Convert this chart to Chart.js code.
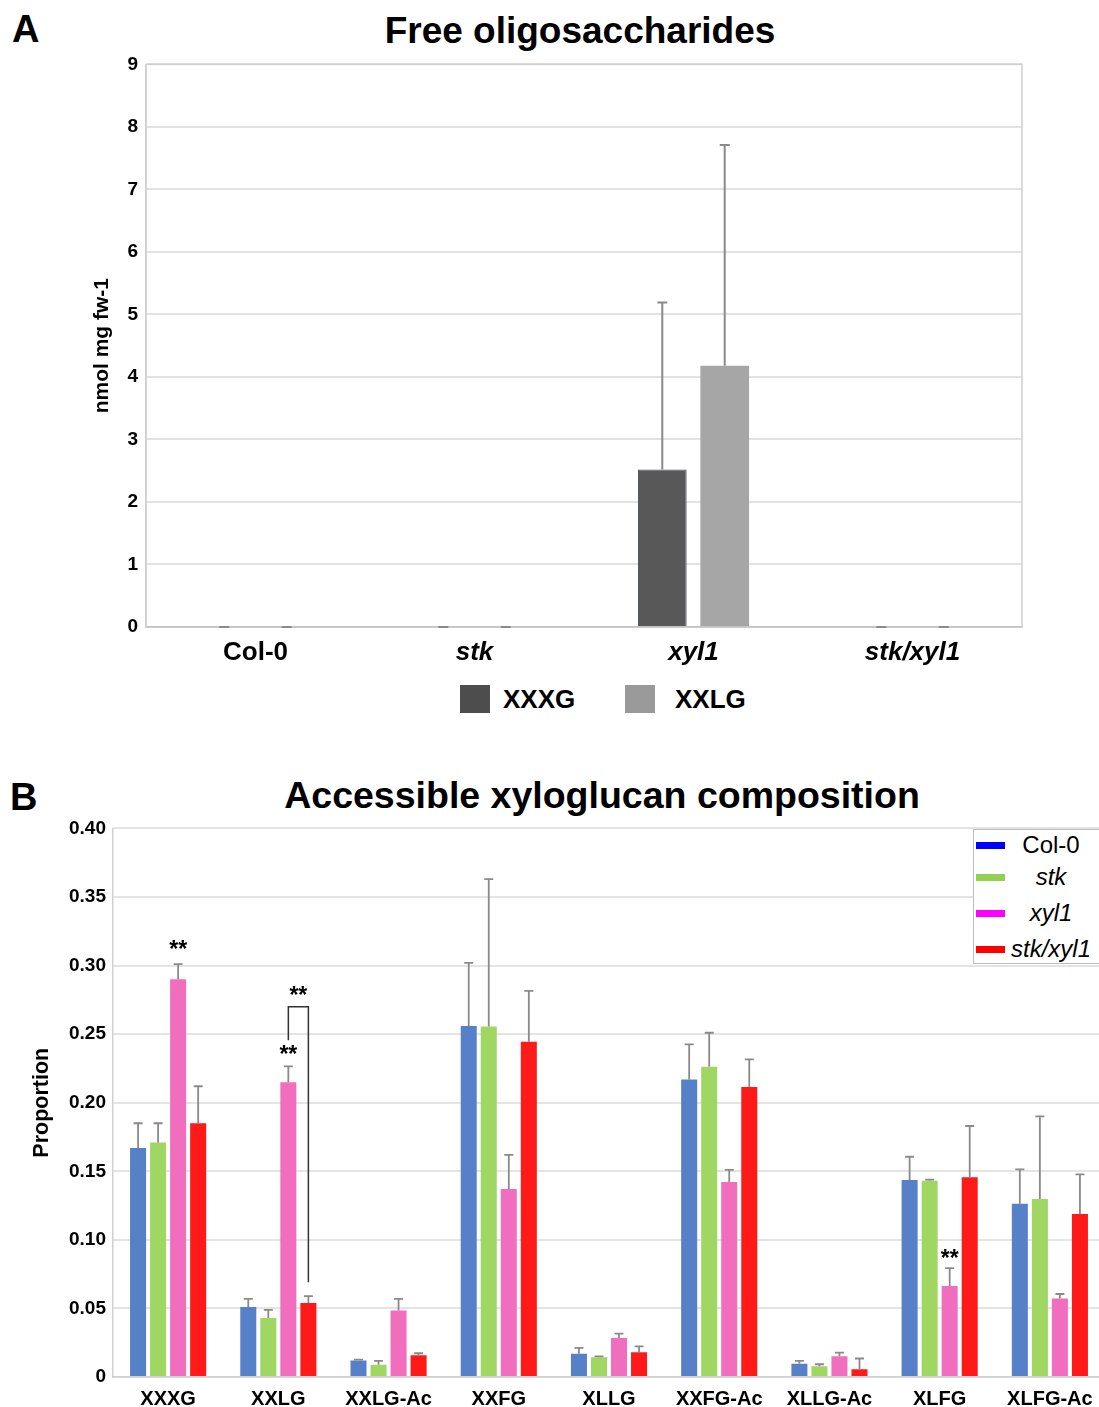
<!DOCTYPE html>
<html>
<head>
<meta charset="utf-8">
<script src="https://cdn.jsdelivr.net/npm/chart.js@4/dist/chart.umd.min.js"></script>
<style>
  html, body { margin: 0; padding: 0; overflow: hidden; background: #fff; }
  body { width: 1099px; height: 1407px; position: relative; font-family: "Liberation Sans", Arial, Helvetica, sans-serif; }
  .txt { position: absolute; white-space: nowrap; line-height: 1; color: #000; font-weight: bold; }
  canvas { position: absolute; left: 0; }
  .sw { position: absolute; }
  #legB { position: absolute; left: 973px; top: 829px; width: 140px; height: 133px; border: 1px solid #bdbdbd; background: #fff; }
  #legB .row { position: absolute; left: 0; width: 126px; height: 30px; }
  #legB .row span.bar { position: absolute; left: 2px; top: 12px; width: 29px; height: 7px; }
  #legB .row span.lab { position: absolute; left: 32px; width: 90px; text-align: center; top: 3px; font-size: 24px; line-height: 1; }
</style>
</head>
<body>
<div class="txt" style="left:12px;top:10px;font-size:38px">A</div>
<div class="txt" style="left:580px;top:12px;font-size:37px;transform:translateX(-50%)">Free oligosaccharides</div>
<canvas id="chartA" width="1099" height="630" style="top:45px;width:1099px;height:630px"></canvas>
<div id="legA"></div>

<div class="txt" style="left:10px;top:778px;font-size:38px">B</div>
<div class="txt" style="left:602px;top:777px;font-size:37.5px;transform:translateX(-50%)">Accessible xyloglucan composition</div>
<canvas id="chartB" width="1106" height="597" style="top:810px;width:1106px;height:597px"></canvas>
<div id="legB"></div>

<script>
// ---- panel A data ----
var genotypes = ["Col-0", "stk", "xyl1", "stk/xyl1"];
var xxxgFree = [0, 0, 2.52, 0];
var xxxgFreeErr = [0, 0, 2.67, 0];
var xxlgFree = [0, 0, 4.18, 0];
var xxlgFreeErr = [0, 0, 3.53, 0];
var freeTicks = [0, 1, 2, 3, 4, 5, 6, 7, 8, 9];

// ---- panel B data ----
var fragments = ["XXXG", "XXLG", "XXLG-Ac", "XXFG", "XLLG", "XXFG-Ac", "XLLG-Ac", "XLFG", "XLFG-Ac"];
var col0 = [0.167, 0.051, 0.012, 0.256, 0.017, 0.217, 0.0096, 0.1436, 0.1264];
var col0Err = [0.018, 0.006, 0.0007, 0.046, 0.0042, 0.0255, 0.0022, 0.017, 0.025];
var stk = [0.171, 0.043, 0.009, 0.2556, 0.0144, 0.2263, 0.0079, 0.1431, 0.1298];
var stkErr = [0.014, 0.006, 0.0028, 0.1074, 0.0006, 0.0247, 0.0014, 0.0008, 0.0602];
var xyl1 = [0.290, 0.215, 0.0484, 0.137, 0.0285, 0.1422, 0.0151, 0.0663, 0.0573];
var xyl1Err = [0.011, 0.0115, 0.0086, 0.025, 0.0031, 0.0088, 0.0027, 0.0131, 0.0032];
var stkXyl1 = [0.185, 0.054, 0.0159, 0.2445, 0.018, 0.2115, 0.0057, 0.1456, 0.1189];
var stkXyl1Err = [0.027, 0.005, 0.0014, 0.0371, 0.0044, 0.0201, 0.0078, 0.0374, 0.0289];
var propTicks = [0, 0.05, 0.10, 0.15, 0.20, 0.25, 0.30, 0.35, 0.40];

// significance marks: category index, dataset index, y value of the label
var stars = [
  { cat: 0, ds: 2, y: 0.3145 },
  { cat: 1, ds: 2, y: 0.238 },
  { cat: 7, ds: 2, y: 0.089 }
];
var brackets = [
  { cat: 1, from: 2, to: 3, top: 0.270, leftEnd: 0.2455, rightEnd: 0.069, labelY: 0.281 }
];

var FONT = '"Liberation Sans", Arial, Helvetica, sans-serif';
Chart.defaults.font.family = FONT;
Chart.defaults.color = '#000';

var errorBars = {
  id: 'errorBars',
  afterDatasetsDraw: function(chart, args, opts) {
    var ctx = chart.ctx, y = chart.scales.y;
    ctx.save();
    ctx.strokeStyle = opts.color || '#8a8a8a';
    ctx.lineWidth = opts.width || 2;
    chart.data.datasets.forEach(function(ds, i) {
      var meta = chart.getDatasetMeta(i);
      meta.data.forEach(function(bar, j) {
        var top = y.getPixelForValue(ds.data[j] + ds.errors[j]);
        ctx.beginPath();
        ctx.moveTo(bar.x, bar.y);
        ctx.lineTo(bar.x, top);
        ctx.moveTo(bar.x - opts.cap, top);
        ctx.lineTo(bar.x + opts.cap, top);
        ctx.stroke();
      });
    });
    ctx.restore();
  }
};

var frame = {
  id: 'frame',
  beforeDatasetsDraw: function(chart, args, opts) {
    if (!opts.color) return;
    var a = chart.chartArea, ctx = chart.ctx;
    ctx.save();
    ctx.strokeStyle = opts.color;
    ctx.lineWidth = 1.5;
    ctx.strokeRect(a.left, a.top, a.right - a.left, a.bottom - a.top);
    ctx.restore();
  }
};

var signif = {
  id: 'signif',
  afterDatasetsDraw: function(chart, args, opts) {
    if (!opts.stars) return;
    var ctx = chart.ctx, y = chart.scales.y;
    ctx.save();
    ctx.fillStyle = '#000';
    ctx.font = 'bold 23px ' + FONT;
    ctx.textAlign = 'center';
    ctx.textBaseline = 'alphabetic';
    opts.stars.forEach(function(s) {
      var bx = chart.getDatasetMeta(s.ds).data[s.cat].x;
      ctx.fillText('**', bx, y.getPixelForValue(s.y) + 11);
    });
    ctx.strokeStyle = '#333';
    ctx.lineWidth = 1.5;
    opts.brackets.forEach(function(b) {
      var x1 = chart.getDatasetMeta(b.from).data[b.cat].x;
      var x2 = chart.getDatasetMeta(b.to).data[b.cat].x;
      var yt = y.getPixelForValue(b.top);
      ctx.beginPath();
      ctx.moveTo(x1, y.getPixelForValue(b.leftEnd));
      ctx.lineTo(x1, yt);
      ctx.lineTo(x2, yt);
      ctx.lineTo(x2, y.getPixelForValue(b.rightEnd));
      ctx.stroke();
      ctx.fillText('**', (x1 + x2) / 2, y.getPixelForValue(b.labelY) + 11);
    });
    ctx.restore();
  }
};

// ---- chart A ----
new Chart(document.getElementById('chartA').getContext('2d'), {
  type: 'bar',
  data: {
    labels: genotypes,
    datasets: [
      { label: 'XXXG', data: xxxgFree, errors: xxxgFreeErr, backgroundColor: '#585858', borderColor: '#4a5060', borderWidth: 1 },
      { label: 'XXLG', data: xxlgFree, errors: xxlgFreeErr, backgroundColor: '#a6a6a6' }
    ]
  },
  options: {
    responsive: false,
    animation: false,
    categoryPercentage: 0.57,
    barPercentage: 0.78,
    layout: { padding: { top: 18, right: 77, left: 0, bottom: 0 } },
    plugins: {
      legend: { display: false },
      tooltip: { enabled: false },
      errorBars: { cap: 5, color: '#8a8a8a', width: 2 },
      frame: { color: '#cfcfcf' },
      signif: {}
    },
    scales: {
      x: {
        grid: { display: false, drawTicks: false },
        border: { display: true, color: '#a0a0a0', width: 1.5 },
        ticks: {
          padding: 10,
          font: function(c) { return { size: 26, weight: 'bold', style: c.index === 0 ? 'normal' : 'italic' }; }
        },
        afterFit: function(s) { s.height = 48; }
      },
      y: {
        min: 0, max: 9,
        afterBuildTicks: function(s) { s.ticks = freeTicks.map(function(v) { return { value: v }; }); },
        grid: { color: '#e2e2e2', lineWidth: 2, drawTicks: false },
        border: { display: true, color: '#cfcfcf', width: 1.5 },
        ticks: { padding: 8, font: { size: 19, weight: 'bold' } },
        title: { display: true, text: 'nmol mg fw-1', font: { size: 21, weight: 'bold' }, padding: { top: 90, bottom: 0 } },
        afterFit: function(s) { s.width = 146; }
      }
    }
  },
  plugins: [frame, errorBars, signif]
});

// HTML legend for A
(function() {
  var leg = document.getElementById('legA');
  var items = [
    { text: 'XXXG', color: '#4d4d4d', sw: 460, tx: 503 },
    { text: 'XXLG', color: '#9a9a9a', sw: 625, tx: 675 }
  ];
  items.forEach(function(it) {
    var s = document.createElement('div');
    s.className = 'sw';
    s.style.cssText = 'left:' + it.sw + 'px;top:685px;width:30px;height:28px;background:' + it.color;
    leg.appendChild(s);
    var t = document.createElement('div');
    t.className = 'txt';
    t.style.cssText = 'left:' + it.tx + 'px;top:686px;font-size:26px';
    t.textContent = it.text;
    leg.appendChild(t);
  });
})();

// ---- chart B ----
new Chart(document.getElementById('chartB').getContext('2d'), {
  type: 'bar',
  data: {
    labels: fragments,
    datasets: [
      { label: 'Col-0', data: col0, errors: col0Err, backgroundColor: '#5681c9' },
      { label: 'stk', data: stk, errors: stkErr, backgroundColor: '#a0d662' },
      { label: 'xyl1', data: xyl1, errors: xyl1Err, backgroundColor: '#f16ebe' },
      { label: 'stk/xyl1', data: stkXyl1, errors: stkXyl1Err, backgroundColor: '#ff1a1a' }
    ]
  },
  options: {
    responsive: false,
    animation: false,
    categoryPercentage: 0.727,
    barPercentage: 0.8,
    layout: { padding: { top: 16, right: 1, left: 0, bottom: 0 } },
    plugins: {
      legend: { display: false },
      tooltip: { enabled: false },
      errorBars: { cap: 4.5, color: '#8a8a8a', width: 1.8 },
      frame: {},
      signif: { stars: stars, brackets: brackets }
    },
    scales: {
      x: {
        grid: { display: false, drawTicks: false },
        border: { display: true, color: '#cfcfcf', width: 1.5 },
        ticks: { padding: 10, font: { size: 20, weight: 'bold' } },
        afterFit: function(s) { s.height = 30; }
      },
      y: {
        min: 0, max: 0.4,
        afterBuildTicks: function(s) { s.ticks = propTicks.map(function(v) { return { value: v }; }); },
        grid: { color: '#e4e4e4', lineWidth: 2, drawTicks: false },
        border: { display: true, color: '#d0d0d0', width: 1.5 },
        ticks: {
          padding: 7,
          font: { size: 19, weight: 'bold' },
          callback: function(v) { return v === 0 ? '0' : v.toFixed(2); }
        },
        title: { display: true, text: 'Proportion', font: { size: 21.5, weight: 'bold' }, padding: { top: 29, bottom: 0 } },
        afterFit: function(s) { s.width = 113; }
      }
    }
  },
  plugins: [frame, errorBars, signif]
});

// HTML legend for B
(function() {
  var leg = document.getElementById('legB');
  var names = ['Col-0', 'stk', 'xyl1', 'stk/xyl1'];
  var colors = ['#0000ff', '#92d050', '#ff00ff', '#ff0000'];
  var rowTops = [0, 32, 68, 104];
  names.forEach(function(n, i) {
    var r = document.createElement('div');
    r.className = 'row';
    r.style.top = rowTops[i] + 'px';
    r.innerHTML = '<span class="bar" style="background:' + colors[i] + '"></span>' +
      '<span class="lab" style="font-style:' + (i === 0 ? 'normal' : 'italic') + '">' + n + '</span>';
    leg.appendChild(r);
  });
})();
</script>
</body>
</html>
